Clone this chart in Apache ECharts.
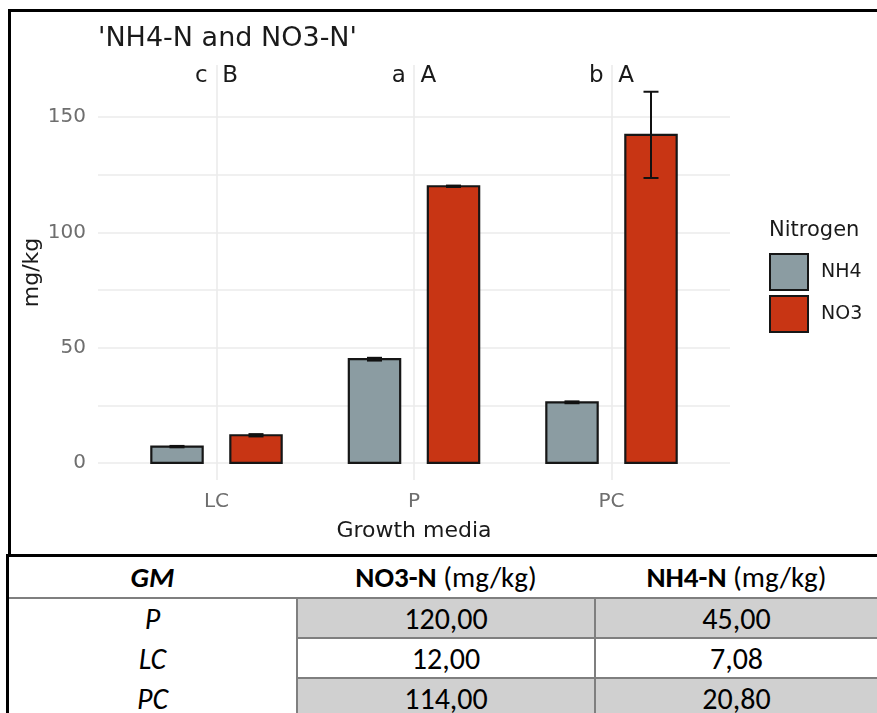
<!DOCTYPE html>
<html>
<head>
<meta charset="utf-8">
<script src="https://cdn.jsdelivr.net/npm/echarts@6/dist/echarts.min.js"></script>
<style>
  html, body { margin: 0; padding: 0; background: #fff; }
  #wrap { position: relative; width: 877px; height: 713px; overflow: hidden; }
  #chart { position: absolute; left: 0; top: 0; width: 877px; height: 713px; }
  #frame { position: absolute; left: 8px; top: 9px; width: 869px; height: 546px;
           border-top: 3px solid #000; border-left: 3px solid #000; pointer-events: none; }
  #tbl { position: absolute; left: 6px; top: 554px; width: 871px; height: 159px;
         background: #fff; border-top: 3px solid #000; border-left: 3px solid #000;
         font-family: Carlito, "Liberation Sans Narrow", "Open Sans", sans-serif; color: #000; }
  .cell { position: absolute; display: flex; align-items: center; justify-content: center;
          box-sizing: border-box; font-size: 30px; white-space: pre; }
  .cell.head { font-size: 29px; }
  .hline { position: absolute; height: 2px; background: #7f7f7f; }
  .vline { position: absolute; width: 2px; background: #7f7f7f; }
</style>
</head>
<body>
<div id="wrap">
  <div id="chart"></div>
  <div id="frame"></div>
  <div id="tbl"></div>
</div>
<script>
// Nitrogen content by growth media
const categories = ['LC', 'P', 'PC'];
const nh4Mean = [7.08, 45.0, 26.3];
const nh4Se = [0.3, 0.6, 0.4];
const no3Mean = [12.0, 120.0, 142.3];
const no3Se = [0.5, 0.3, 18.7];
const lowerLetters = ['c', 'a', 'b'];
const upperLetters = ['B', 'A', 'A'];
const yTickLabels = [0, 50, 100, 150];
const yGridValues = [0, 25, 50, 75, 100, 125, 150];

// Summary table
const tableHeader = ['GM', 'NO3-N', 'NH4-N'];
const tableUnit = '(mg/kg)';
const tableMedia = ['P', 'LC', 'PC'];
const tableNO3 = ['120,00', '12,00', '114,00'];
const tableNH4 = ['45,00', '7,08', '20,80'];

const FONT = 'DejaVu Sans';
const NH4_COLOR = '#8b9ca2';
const NO3_COLOR = '#c83514';
const EDGE = '#161616';
const GRID_COLOR = '#ebebeb';

const BAR_W = 0.26;     // bar width in category units
const DODGE = 0.2;      // bar offset from the category centre
const CAP = 0.038;      // half width of the error bar cap
const LETTER_Y = 168;   // height of the significance letters

function barSeries(name, means, ses, offset, color) {
  return {
    type: 'custom',
    name: name,
    z: 3,
    itemStyle: { color: color, borderColor: EDGE, borderWidth: 2 },
    data: means.map((m, i) => [i + 1, m, ses[i]]),
    renderItem: function (params, api) {
      const x = api.value(0) + offset;
      const y = api.value(1);
      const se = api.value(2);
      const tl = api.coord([x - BAR_W / 2, y]);
      const br = api.coord([x + BAR_W / 2, 0]);
      const top = api.coord([x, y + se]);
      const bot = api.coord([x, y - se]);
      const capL = api.coord([x - CAP, 0])[0];
      const capR = api.coord([x + CAP, 0])[0];
      const lineStyle = { stroke: '#111', lineWidth: 2 };
      return {
        type: 'group',
        children: [
          { type: 'rect', shape: { x: tl[0], y: tl[1], width: br[0] - tl[0], height: br[1] - tl[1] },
            style: { fill: color, stroke: EDGE, lineWidth: 2.2 } },
          { type: 'line', shape: { x1: top[0], y1: top[1], x2: bot[0], y2: bot[1] }, style: lineStyle },
          { type: 'line', shape: { x1: capL, y1: top[1], x2: capR, y2: top[1] }, style: lineStyle },
          { type: 'line', shape: { x1: capL, y1: bot[1], x2: capR, y2: bot[1] }, style: lineStyle }
        ]
      };
    }
  };
}

const chart = echarts.init(document.getElementById('chart'), null, { renderer: 'canvas' });

chart.setOption({
  animation: false,
  backgroundColor: 'transparent',
  title: [
    { text: "'NH4-N and NO3-N'", left: 98, top: 25, padding: 0,
      textStyle: { fontFamily: FONT, fontSize: 27, lineHeight: 27, fontWeight: 'normal', color: '#1a1a1a' } },
    { text: 'Nitrogen', left: 769, top: 220, padding: 0,
      textStyle: { fontFamily: FONT, fontSize: 21, lineHeight: 21, fontWeight: 'normal', color: '#1a1a1a' } }
  ],
  legend: {
    orient: 'vertical', left: 769, top: 253, padding: 0,
    itemWidth: 38, itemHeight: 36, itemGap: 4, selectedMode: false,
    data: [
      { name: 'NH4', icon: 'rect', itemStyle: { color: NH4_COLOR, borderColor: EDGE, borderWidth: 2 } },
      { name: 'NO3', icon: 'rect', itemStyle: { color: NO3_COLOR, borderColor: EDGE, borderWidth: 2 } }
    ],
    textStyle: { fontFamily: FONT, fontSize: 19, color: '#1a1a1a', padding: [0, 0, 0, 8] }
  },
  grid: { left: 98, right: 147, top: 65, bottom: 233, containLabel: false },
  xAxis: {
    type: 'value', min: 0.4, max: 3.6,
    axisLine: { show: false }, axisTick: { show: false }, splitLine: { show: false },
    axisLabel: {
      customValues: categories.map((c, i) => i + 1),
      formatter: v => categories[Math.round(v) - 1] || '',
      fontFamily: FONT, fontSize: 20, color: '#6e6e6e', margin: 12
    },
    name: 'Growth media', nameLocation: 'middle', nameGap: 40,
    nameTextStyle: { fontFamily: FONT, fontSize: 22, color: '#1a1a1a' }
  },
  yAxis: {
    type: 'value', min: -7.4, max: 172.6,
    axisLine: { show: false }, axisTick: { show: false }, splitLine: { show: false },
    axisLabel: {
      customValues: yTickLabels,
      fontFamily: FONT, fontSize: 20, color: '#6e6e6e', margin: 12
    },
    name: 'mg/kg', nameLocation: 'middle', nameGap: 55, nameMoveOverlap: false,
    nameTextStyle: { fontFamily: FONT, fontSize: 22, color: '#1a1a1a' }
  },
  series: [
    {
      type: 'line', name: 'grid', data: [], silent: true,
      markLine: {
        silent: true, z: 1, symbol: ['none', 'none'], label: { show: false },
        lineStyle: { color: GRID_COLOR, width: 1.6, type: 'solid' },
        emphasis: { disabled: true },
        data: yGridValues.map(v => ({ yAxis: v }))
          .concat(categories.map((c, i) => ({ xAxis: i + 1 })))
      }
    },
    barSeries('NH4', nh4Mean, nh4Se, -DODGE, NH4_COLOR),
    barSeries('NO3', no3Mean, no3Se, DODGE, NO3_COLOR),
    {
      type: 'custom', name: 'letters', z: 4, silent: true,
      data: categories.map((c, i) => [i + 1, lowerLetters[i], upperLetters[i]]),
      renderItem: function (params, api) {
        const i = params.dataIndex;
        const p = api.coord([i + 1, LETTER_Y]);
        return {
          type: 'text', x: p[0], y: p[1],
          style: { text: lowerLetters[i] + '  ' + upperLetters[i], align: 'center', verticalAlign: 'middle',
                   fontFamily: FONT, fontSize: 23, fill: '#1a1a1a' }
        };
      }
    }
  ]
});

// Build the summary table below the chart
(function buildTable() {
  const tbl = document.getElementById('tbl');
  const colX = [0, 289, 587];           // inner left edges of the columns
  const colW = [287, 296, 281];
  const headH = 40, rowH = 38;
  function cell(html, x, y, w, h, extra, cls) {
    const d = document.createElement('div');
    d.className = 'cell' + (cls ? ' ' + cls : '');
    d.style.left = x + 'px'; d.style.top = y + 'px';
    d.style.width = w + 'px'; d.style.height = h + 'px';
    if (extra) Object.assign(d.style, extra);
    d.innerHTML = html;
    tbl.appendChild(d);
  }
  function line(cls, x, y, len) {
    const d = document.createElement('div');
    d.className = cls;
    d.style.left = x + 'px'; d.style.top = y + 'px';
    if (cls === 'hline') d.style.width = len + 'px'; else d.style.height = len + 'px';
    tbl.appendChild(d);
  }
  const head = (bold, unit) => '<span><b>' + bold + '</b>' + (unit ? ' ' + unit : '') + '</span>';
  cell('<span><b><i>' + tableHeader[0] + '</i></b></span>', colX[0], 0, colW[0], headH, null, 'head');
  cell(head(tableHeader[1], tableUnit), colX[1], 0, colW[1], headH, null, 'head');
  cell(head(tableHeader[2], tableUnit), colX[2], 0, colW[2], headH, null, 'head');
  line('hline', 0, headH, 871);
  tableMedia.forEach((m, r) => {
    const y = headH + 2 + r * (rowH + 2);
    const shade = r % 2 === 0 ? { background: '#d0d0d0' } : null;
    cell('<i>' + m + '</i>', colX[0], y, colW[0], rowH);
    cell(tableNO3[r], colX[1], y, colW[1], rowH, shade);
    cell(tableNH4[r], colX[2], y, colW[2], rowH, shade);
    if (r > 0) line('hline', colX[1] - 2, y - 2, 871 - colX[1] + 2);
  });
  line('vline', colX[1] - 2, headH, 200);
  line('vline', colX[2] - 2, headH, 200);
})();
</script>
</body>
</html>
